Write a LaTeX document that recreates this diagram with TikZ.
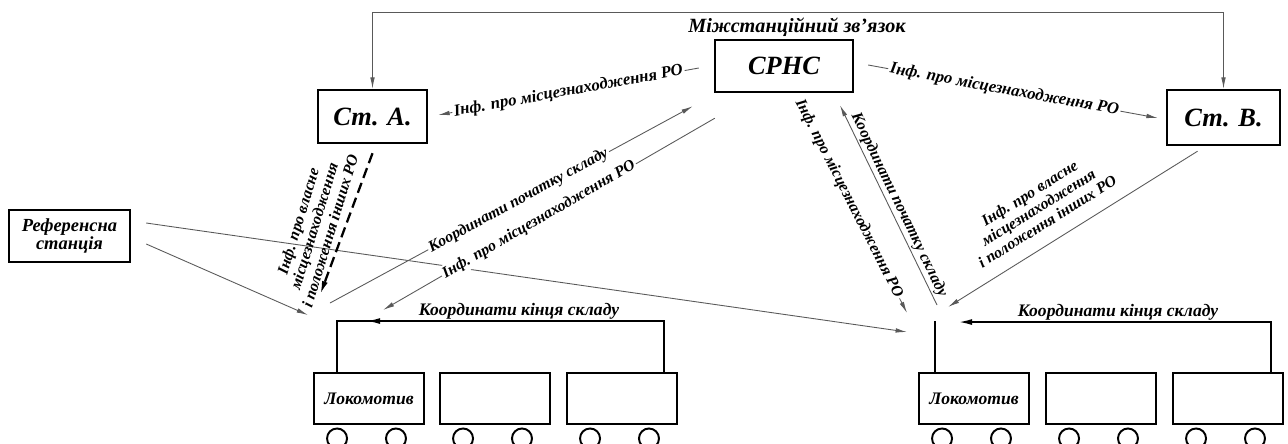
\documentclass[tikz,border=0pt]{standalone}
\usepackage{fontspec}
\setmainfont{Liberation Serif}
\usepackage{tikz}
\usetikzlibrary{arrows.meta,positioning,calc}

\begin{document}
\begin{tikzpicture}[x=0.2mm,y=-0.2mm,
    >={Latex[length=6.5pt,width=2.6pt]},
    box/.style={draw,line width=1.4pt,inner sep=1pt,font=\bfseries\itshape\fontsize{15}{16}\selectfont},
    wagon/.style={draw,line width=1.1pt,minimum width=110*0.2mm,minimum height=51*0.2mm,inner sep=0pt,font=\bfseries\itshape\fontsize{10}{11}\selectfont},
    link/.style={draw=black!65,line width=0.5pt},
    bus/.style={line width=1.1pt},
    lbl/.style={font=\bfseries\itshape\fontsize{9}{9.5}\selectfont,inner sep=1pt},
    online/.style={lbl,sloped,fill=white}]
    \useasboundingbox (0,0) rectangle (1288,443);

    % stations
    \node[box,minimum width=109*0.2mm,minimum height=53*0.2mm] (sta) at (372.5,116.5) {Ст. А.};
    \node[box,minimum width=138*0.2mm,minimum height=52*0.2mm] (srns) at (784,66) {СРНС};
    \node[box,minimum width=113*0.2mm,minimum height=55*0.2mm] (stb) at (1223.5,117.5) {Ст. В.};
    \node[box,align=center,minimum width=121*0.2mm,minimum height=52*0.2mm,
          font=\bfseries\itshape\fontsize{10.5}{10}\selectfont] (ref) at (69.5,236) {Референсна\\станція};
    \node[lbl,font=\bfseries\itshape\fontsize{11.5}{12}\selectfont] (mizh) at (797,27) {Міжстанційний зв'язок};

    % trains
    \foreach \i/\cx in {1/369,2/495,3/622} {
        \node[wagon] (l\i) at (\cx,398.5) {};
        \draw[line width=1.1pt] ($(l\i.south west)+(24,13.5)$) circle (10);
        \draw[line width=1.1pt] ($(l\i.south east)+(-29,13.5)$) circle (10);
    }
    \foreach \i/\cx in {1/974,2/1101,3/1228} {
        \node[wagon] (r\i) at (\cx,398.5) {};
        \draw[line width=1.1pt] ($(r\i.south west)+(24,13.5)$) circle (10);
        \draw[line width=1.1pt] ($(r\i.south east)+(-29,13.5)$) circle (10);
    }
    \node[lbl,font=\bfseries\itshape\fontsize{10}{11}\selectfont] at (l1) {Локомотив};
    \node[lbl,font=\bfseries\itshape\fontsize{10}{11}\selectfont] at (r1) {Локомотив};

    % receiving points
    \coordinate (lant) at ($(l1.north west)+(24,-51)$);
    \coordinate (rant) at ($(r1.north west)+(17,-51)$);
    \coordinate (lref) at (308,315);
    \coordinate (ldash) at (320,295);
    \coordinate (lkoord) at (330,303);
    \coordinate (linf) at (383,310);
    \coordinate (rinf) at (907,313);
    \coordinate (rref) at (907,332);
    \coordinate (rstb) at (948,307);
    \coordinate (rkoord) at (937,305);

    % end of train
    \draw[bus] (lant |- l1.north) -- (lant) -- ($(lant)+(40,0)$);
    \draw[bus,-{Latex[length=8pt,width=3.4pt]}] ($(l3.north east)+(-14,0)$) |- ($(lant)+(29,0)$);
    \node[lbl,font=\bfseries\itshape\fontsize{10}{11}\selectfont] (kinl) at (519,311) {Координати кінця складу};
    \draw[bus] (rant |- r1.north) -- (rant);
    \draw[bus,-{Latex[length=8pt,width=3.4pt]}] ($(r3.north east)+(-13,0)$) |- ($(rant)+(23,1)$);
    \node[lbl,font=\bfseries\itshape\fontsize{10}{11}\selectfont] (kinr) at (1118,312) {Координати кінця складу};

    % links
    \draw[link,<->] (sta.north) -- ++(0,-76) -| (stb.north);
    \draw[link,->] ($(ref.east)+(15,8)$) -- (lref);
    \draw[link,->] ($(ref.east)+(15,-13)$) -- (rref);
    \draw[link,->] ($(srns.west)+(-15,2)$) -- node[online,pos=0.5,font=\bfseries\itshape\fontsize{9.5}{10}\selectfont] {Інф. про місцезнаходження РО} ($(sta.east)+(10,-1.5)$);
    \draw[link,->] ($(srns.east)+(14,-1)$) -- node[online,pos=0.47,font=\bfseries\itshape\fontsize{9.5}{10}\selectfont] {Інф. про місцезнаходження РО} ($(stb.west)+(-8,0.5)$);
    \draw[link,->] ($(srns.south)+(15,8)$) -- node[online,pos=0.46] {Інф. про місцезнаходження РО} (rinf);
    \draw[link,->] (rkoord) -- node[lbl,sloped,above,pos=0.48] {Координати початку складу} ($(srns.south)+(56,12)$);
    \draw[link,->] ($(stb.south)+(-26,5)$) -- node[lbl,sloped,above=7pt,align=center,pos=0.56]
        {Інф. про власне\\місцезнаходження\\і положення інших РО} (rstb);
    \draw[line width=1.3pt,dash pattern=on 6pt off 3pt,-{Latex[length=8pt,width=3.4pt]}] ($(sta.south)+(0,9)$) -- (ldash);
    \node[lbl,rotate=73,align=center] (vlasa) at (314,226) {Інф. про власне\\місцезнаходження\\і положення інших РО};
    \draw[link,->] (lkoord) -- node[online,pos=0.52] {Координати початку складу} ($(srns.south west)+(-21,13)$);
    \draw[link,->] ($(srns.south west)+(1,25)$) -- node[online,pos=0.53] {Інф. про місцезнаходження РО} (linf);
\end{tikzpicture}
\end{document}
